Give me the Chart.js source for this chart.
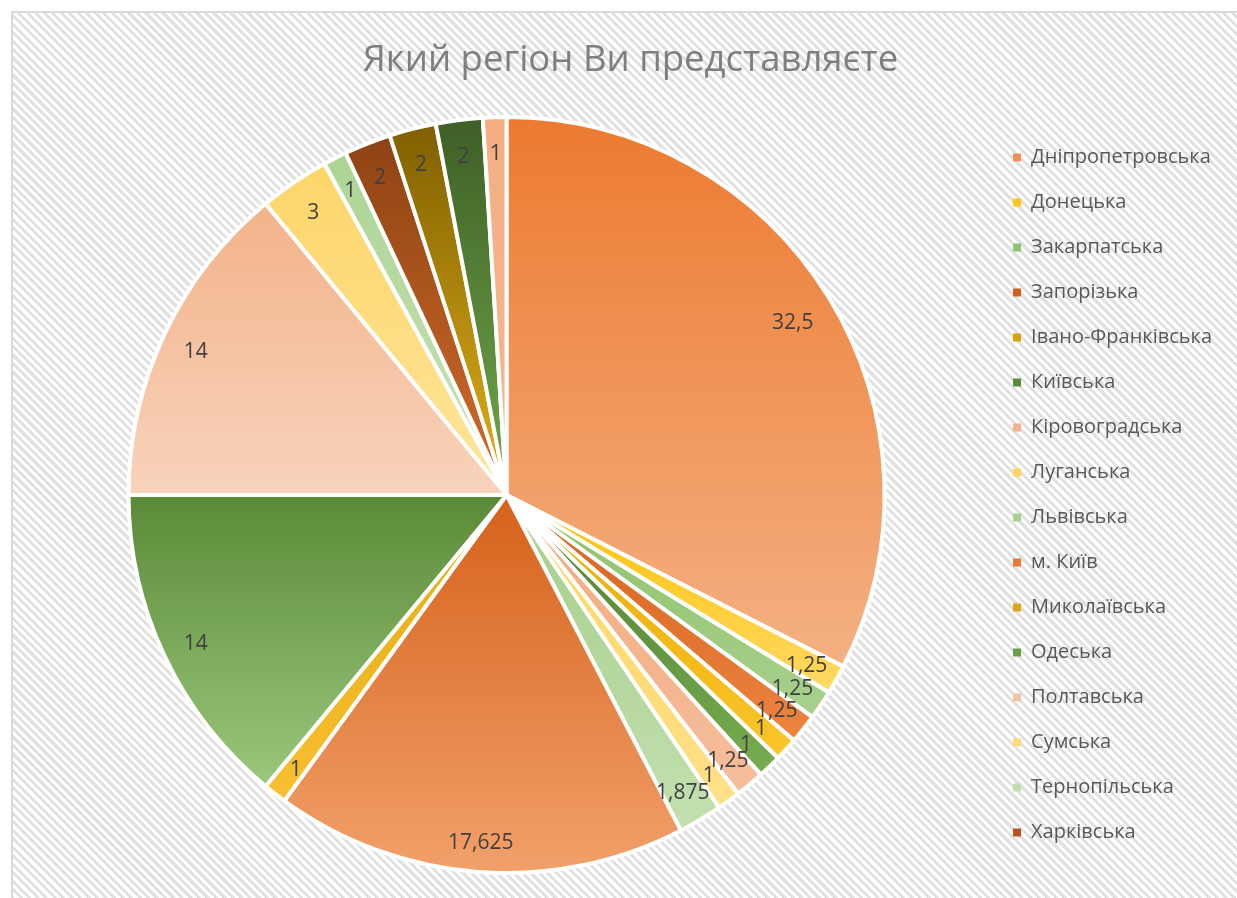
<!DOCTYPE html>
<html>
<head>
<meta charset="utf-8">
<script src="https://cdn.jsdelivr.net/npm/chart.js@4/dist/chart.umd.min.js"></script>
<style>
  html, body { margin: 0; padding: 0; background: #ffffff; width: 1237px; height: 898px; overflow: hidden; }
  #frame {
    position: absolute; left: 11px; top: 11px; width: 1240px; height: 900px;
    border-left: 2px solid #d9d9d9; border-top: 2px solid #d9d9d9;
    background: repeating-linear-gradient(45deg, #ffffff 0px, #ffffff 3px, #e1e1e1 3px, #e1e1e1 6px);
  }
  #wrap { position: absolute; left: 0; top: 0; width: 1237px; height: 898px; }
</style>
</head>
<body>
<div id="frame"></div>
<div id="wrap"><canvas id="c" width="1237" height="898"></canvas></div>
<script>
const titleText = 'Який регіон Ви представляєте';
const regions = [
  'Дніпропетровська', 'Донецька', 'Закарпатська', 'Запорізька', 'Івано-Франківська',
  'Київська', 'Кіровоградська', 'Луганська', 'Львівська', 'м. Київ',
  'Миколаївська', 'Одеська', 'Полтавська', 'Сумська', 'Тернопільська',
  'Харківська', 'Херсонська', 'Хмельницька', 'Черкаська'
];
const shares = [
  32.5, 1.25, 1.25, 1.25, 1,
  1, 1.25, 1, 1.875, 17.625,
  1, 14, 14, 3, 1,
  2, 2, 2, 1
];
const legendCount = 16;

// gradient colours per slice (top -> bottom) and legend swatch colour
const topColors = [
  '#ec7a30', '#ffc000', '#8cc168', '#d4611c', '#e8a800',
  '#4e7d30', '#f2a97c', '#ffd65c', '#a5cf8a', '#d5621b',
  '#e2aa10', '#5a8a38', '#f3b38a', '#fdd66a', '#add494',
  '#8e4313', '#7f6000', '#3e5f27', '#f4ae82'
];
const bottomColors = [
  '#f4b183', '#ffd966', '#a9d18e', '#ec8440', '#fbc62a',
  '#77ad50', '#f6be9c', '#ffe08a', '#c3e0b0', '#f2a06a',
  '#f8c030', '#9cc77c', '#f8d3bc', '#fee59a', '#c8e3b6',
  '#d36c2b', '#e3b11a', '#72aa4b', '#f6b892'
];
const legendColors = [
  '#ef9057', '#ffc51a', '#8fc46e', '#d0601e', '#d4a20a',
  '#5a8a38', '#f4b08a', '#ffd65c', '#a9d18e', '#e57a3a',
  '#d9a818', '#6a9e48', '#f6c2a3', '#fedb78', '#bfe0aa',
  '#b8551c', '#b08a10', '#4e7a32', '#f4ae82'
];

function fmt(v) { return String(v).replace('.', ','); }

const gradientPlugin = {
  id: 'sliceGradients',
  beforeDatasetsDraw(chart) {
    const ctx = chart.ctx;
    const meta = chart.getDatasetMeta(0);
    meta.data.forEach((arc, i) => {
      const p = arc.getProps(['x', 'y', 'startAngle', 'endAngle', 'outerRadius'], true);
      const ys = [p.y, p.y + p.outerRadius * Math.sin(p.startAngle), p.y + p.outerRadius * Math.sin(p.endAngle)];
      [Math.PI / 2, -Math.PI / 2, 3 * Math.PI / 2, 5 * Math.PI / 2].forEach(a => {
        if (a > p.startAngle && a < p.endAngle) ys.push(p.y + p.outerRadius * Math.sin(a));
      });
      const y0 = Math.min.apply(null, ys), y1 = Math.max.apply(null, ys);
      const g = ctx.createLinearGradient(0, y0, 0, Math.max(y1, y0 + 1));
      g.addColorStop(0, topColors[i]);
      g.addColorStop(1, bottomColors[i]);
      arc.options = Object.assign({}, arc.options, { backgroundColor: g });
    });
  }
};

const labelPlugin = {
  id: 'sliceLabels',
  afterDatasetsDraw(chart) {
    const ctx = chart.ctx;
    const meta = chart.getDatasetMeta(0);
    const values = chart.data.datasets[0].data;
    const total = values.reduce((a, b) => a + b, 0);
    ctx.save();
    ctx.font = '21px "Open Sans", sans-serif';
    ctx.fillStyle = '#404040';
    ctx.textAlign = 'center';
    ctx.textBaseline = 'middle';
    meta.data.forEach((arc, i) => {
      const p = arc.getProps(['x', 'y', 'startAngle', 'endAngle', 'outerRadius'], true);
      const mid = (p.startAngle + p.endAngle) / 2;
      const txt = fmt(values[i]);
      const ux = Math.cos(mid), uy = Math.sin(mid);
      let d;
      if (values[i] / total >= 0.1) {
        const hw = ctx.measureText(txt).width / 2, hh = 11;
        d = p.outerRadius * 0.95 - (hw * Math.abs(ux) + hh * Math.abs(uy));
      } else {
        d = p.outerRadius * 0.91;
      }
      ctx.fillText(txt, p.x + ux * d, p.y + uy * d + 3);
    });
    ctx.restore();
  }
};

const titleShift = {
  id: 'titleShift',
  afterLayout(chart) {
    const t = chart.titleBlock;
    if (t) { t.left += 7; t.right += 7; }
  }
};

new Chart(document.getElementById('c'), {
  type: 'pie',
  data: {
    labels: regions,
    datasets: [{
      data: shares,
      backgroundColor: legendColors,
      borderColor: '#ffffff',
      borderWidth: 4,
      hoverBorderWidth: 4,
      hoverOffset: 0
    }]
  },
  options: {
    responsive: false,
    animation: false,
    events: [],
    layout: { padding: { left: 25, top: 10, bottom: 23, right: 15 } },
    plugins: {
      title: {
        display: true,
        text: titleText,
        color: '#7f7f7f',
        font: { family: '"Open Sans", sans-serif', size: 36.5, weight: 'normal', lineHeight: 1.2 },
        padding: { top: 29.1, bottom: 32.1 }
      },
      legend: {
        position: 'right',
        fullSize: false,
        labels: {
          color: '#595959',
          font: { family: '"Open Sans", sans-serif', size: 20 },
          boxWidth: 8,
          boxHeight: 8,
          padding: 25,
          filter: (item) => item.index < legendCount,
          generateLabels: (chart) => {
            const base = Chart.overrides.pie.plugins.legend.labels.generateLabels(chart);
            return base.map((it, i) => Object.assign(it, { fillStyle: legendColors[i], strokeStyle: '#ffffff', lineWidth: 0 }));
          }
        }
      },
      tooltip: { enabled: false }
    }
  },
  plugins: [gradientPlugin, labelPlugin, titleShift]
});
</script>
</body>
</html>
